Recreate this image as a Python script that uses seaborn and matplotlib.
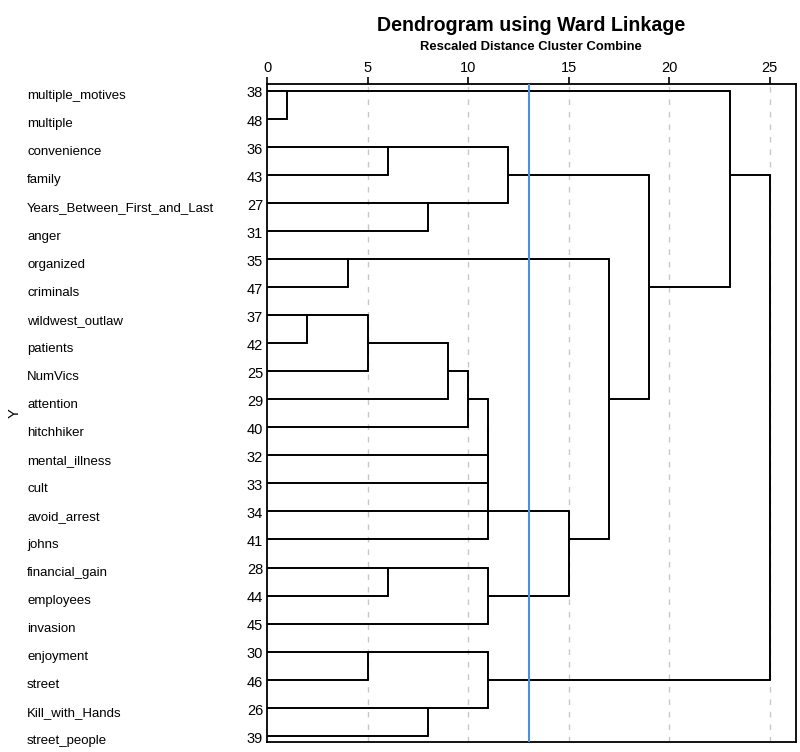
import pandas as pd
import seaborn as sns
import matplotlib.pyplot as plt
from matplotlib.transforms import blended_transform_factory


leaf_names = [
    "multiple_motives", "multiple", "convenience", "family",
    "Years_Between_First_and_Last", "anger", "organized", "criminals",
    "wildwest_outlaw", "patients", "NumVics", "attention", "hitchhiker",
    "mental_illness", "cult", "avoid_arrest", "johns", "financial_gain",
    "employees", "invasion", "enjoyment", "street", "Kill_with_Hands",
    "street_people",
]
leaf_ids = [38, 48, 36, 43, 27, 31, 35, 47, 37, 42, 25, 29, 40,
            32, 33, 34, 41, 28, 44, 45, 30, 46, 26, 39]

# merges like a linkage table: node a, node b, rescaled distance
# leaves are 0..23, new clusters numbered from 24 on
merge_a = [0, 2, 4, 25, 6, 8, 29, 30, 31, 32, 33, 34, 35, 17, 37, 36, 28, 27, 24, 20, 22, 43, 42]
merge_b = [1, 3, 5, 26, 7, 9, 10, 11, 12, 13, 14, 15, 16, 18, 19, 38, 39, 40, 41, 21, 23, 44, 45]
merge_dist = [1, 6, 8, 12, 4, 2, 5, 9, 10, 11, 11, 11, 11, 6, 11, 15, 17, 19, 23, 5, 8, 11, 25]

cut_off = 13
x_ticks = [0, 5, 10, 15, 20, 25]


n = len(leaf_names)
row = {i: i for i in range(n)}
height = {i: 0 for i in range(n)}
segs = []
for k, (a, b, d) in enumerate(zip(merge_a, merge_b, merge_dist)):
    node = n + k
    segs.append((height[a], row[a], d, row[a]))
    segs.append((height[b], row[b], d, row[b]))
    segs.append((d, row[a], d, row[b]))
    row[node] = (row[a] + row[b]) // 2
    height[node] = d

lines = pd.DataFrame(
    [(i, x, y) for i, s in enumerate(segs) for x, y in [(s[0], s[1]), (s[2], s[3])]],
    columns=["seg", "x", "y"],
)

sns.set_style("white")
plt.rcParams["font.family"] = ["Liberation Sans", "DejaVu Sans"]
plt.rcParams["text.color"] = "black"
plt.rcParams["xtick.color"] = "black"
plt.rcParams["ytick.color"] = "black"

fig = plt.figure(figsize=(8, 7.52), dpi=100)
ax = fig.add_axes([0.334, 0.0133, 0.661, 0.8747])

for t in x_ticks[1:]:
    ax.axvline(t, color="#c8c8c8", lw=1, ls=(0, (4, 5)), zorder=0)

sns.lineplot(data=lines, x="x", y="y", units="seg", estimator=None, sort=False,
             color="black", lw=1.4, ax=ax)

ax.axvline(cut_off, color="#4a8fe0", lw=1.5, zorder=3)

ax.set_xlim(0, 26.3)
ax.set_ylim(23.22, -0.23)
ax.xaxis.tick_top()
ax.set_xticks(x_ticks)
ax.tick_params(axis="x", direction="out", length=5, width=1.2, labelsize=10.5, pad=2)
ax.set_yticks([])
ax.set_xlabel("")
ax.set_ylabel("")
for s in ax.spines.values():
    s.set_visible(True)
    s.set_color("black")
    s.set_linewidth(1.3)

trans = blended_transform_factory(fig.transFigure, ax.transData)
for i, (name, num) in enumerate(zip(leaf_names, leaf_ids)):
    ax.text(27 / 800, i + 0.2, name, transform=trans, ha="left", va="center", fontsize=9.5)
    ax.text(263 / 800, i + 0.1, str(num), transform=trans, ha="right", va="center", fontsize=10.5)

fig.text(15 / 800, 0.45, "Y", rotation=90, ha="center", va="center", fontsize=10.5)
fig.text(0.664, 0.966, "Dendrogram using Ward Linkage", ha="center", va="center",
         fontsize=14.1, fontweight="bold")
fig.text(0.664, 0.9375, "Rescaled Distance Cluster Combine", ha="center", va="center",
         fontsize=9.4, fontweight="bold")

fig.savefig("out.png", dpi=100)
